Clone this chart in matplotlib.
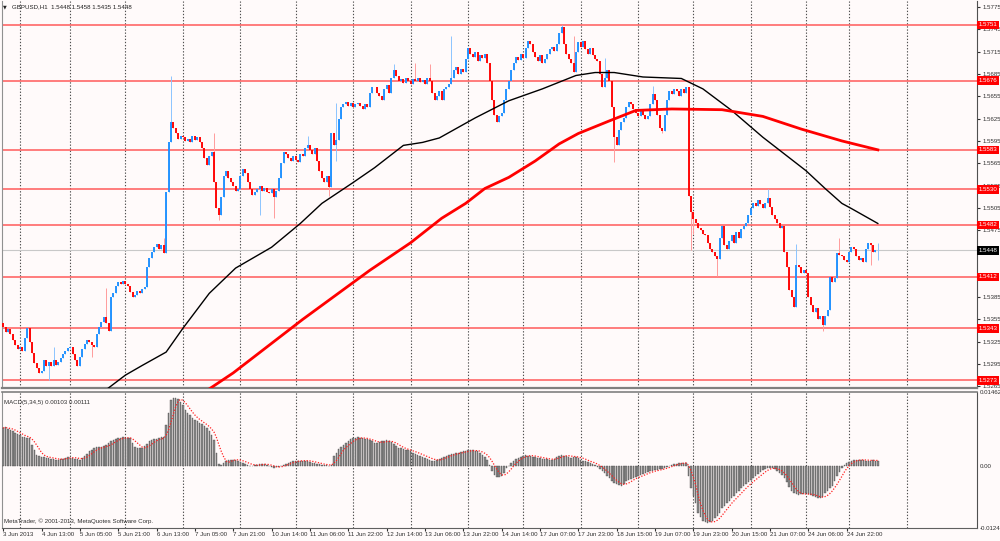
import numpy as np
import pandas as pd
import matplotlib
matplotlib.use("Agg")
import matplotlib.pyplot as plt

# %% data ------------------------------------------------------------------
# GBPUSD H1 closes, in pips above 1.5000
closes = [345, 338, 342, 335, 327, 320, 315, 318, 313, 330, 343, 325, 310, 296, 290,
          283, 286, 300, 292, 298, 292, 300, 293, 297, 303, 308, 312, 316, 318, 308,
          300, 292, 305, 315, 322, 327, 325, 320, 318, 335, 345, 352, 358, 350, 340,
          385, 390, 400, 405, 403, 407, 402, 400, 392, 385, 388, 393, 390, 396, 398,
          425, 438, 445, 452, 457, 450, 455, 444, 526, 593, 620, 612, 605, 598, 602,
          600, 595, 598, 593, 602, 596, 600, 594, 585, 572, 562, 575, 580, 540, 505,
          495, 520, 548, 555, 545, 540, 535, 528, 530, 548, 557, 552, 540, 530, 522,
          526, 530, 535, 528, 532, 526, 525, 530, 520, 528, 545, 565, 580, 578, 572,
          568, 575, 570, 566, 578, 575, 585, 590, 583, 578, 585, 568, 555, 545, 540,
          548, 533, 605, 590, 596, 625, 640, 645, 648, 642, 646, 640, 644, 646, 642,
          638, 645, 641, 660, 667, 668, 660, 655, 650, 665, 670, 660, 680, 690, 682,
          675, 678, 673, 680, 676, 672, 678, 675, 680, 674, 677, 672, 679, 676, 660,
          650, 655, 662, 650, 665, 668, 672, 680, 690, 695, 685, 692, 688, 705, 720,
          712, 708, 715, 702, 710, 706, 712, 700, 675, 650, 630, 620, 628, 632, 650,
          665, 676, 690, 700, 708, 704, 712, 706, 720, 730, 726, 715, 708, 702, 710,
          700, 705, 712, 718, 722, 716, 725, 740, 748, 725, 712, 705, 700, 688, 715,
          728, 722, 730, 718, 712, 720, 710, 705, 703, 685, 668, 680, 690, 675, 640,
          600, 590, 610, 620, 626, 640, 648, 645, 638, 632, 628, 635, 630, 625, 628,
          645, 658, 650, 630, 612, 608, 630, 650, 662, 658, 665, 662, 656, 665, 660,
          668, 521, 500, 490, 485, 478, 475, 470, 468, 458, 450, 446, 440, 436, 465,
          480, 455, 450, 460, 468, 458, 472, 465, 476, 480, 484, 495, 505, 512, 508,
          515, 510, 505, 512, 518, 506, 495, 490, 484, 478, 480, 445, 425, 395, 385,
          372, 428, 425, 418, 422, 417, 385, 375, 365, 370, 355, 360, 348, 360, 367,
          412, 405, 410, 444, 442, 440, 435, 432, 446, 452, 450, 440, 435, 438, 432,
          450, 458, 455, 445, 448, 448]
first_open = 350

# wicks that stand out (bar index: pips)
wick_high = {21: 318, 43: 397, 67: 464, 70: 683, 88: 605, 127: 602, 139: 646,
             163: 699, 172: 700, 178: 699, 187: 736, 233: 751, 238: 736, 251: 707,
             271: 669, 319: 530, 331: 457, 349: 465, 365: 458}
wick_low = {19: 273, 37: 304, 90: 488, 107: 495, 113: 492, 136: 521, 139: 568,
            255: 566, 275: 605, 287: 448, 288: 470, 298: 413, 342: 340, 362: 428,
            365: 435}

# moving averages (bar index, pips)
ma_black_bar = [42, 51, 58, 68, 75, 86, 97, 112, 124, 133, 146, 155, 167, 175, 182,
                197, 211, 225, 239, 247, 255, 267, 283, 292, 304, 317, 335, 343, 350,
                354, 365]
ma_black = [258, 280, 293, 311, 343, 390, 424, 452, 484, 511, 539, 559, 589, 593, 599,
            626, 649, 665, 683, 687, 687, 681, 679, 665, 636, 600, 555, 531, 511, 504,
            484]
ma_red_bar = [83, 96, 125, 153, 170, 183, 193, 201, 211, 222, 232, 240, 253, 264, 279,
              300, 317, 333, 350, 365]
ma_red = [255, 283, 355, 421, 458, 491, 511, 531, 546, 568, 591, 605, 622, 636, 638,
          637, 628, 611, 595, 583]

# horizontal levels (pips) and last bid
levels = [751, 676, 583, 530, 482, 412, 343, 273]
bid = 448

# MACD(5,34,5) main, units of 0.0001
macd = [75, 76, 73, 71, 68, 65, 63, 60, 57, 56,
        55, 55, 41, 30, 22, 19, 18, 17, 16, 15,
        14, 13, 12, 12, 13, 14, 16, 17, 16, 15,
        14, 13, 12, 16, 20, 24, 28, 31, 34, 36,
        37, 37, 38, 40, 44, 48, 51, 53, 55, 55,
        56, 55, 55, 54, 45, 36, 35, 34, 34, 38,
        43, 48, 50, 52, 53, 54, 56, 57, 80, 105,
        131, 134, 135, 132, 127, 120, 111, 105, 100, 95,
        91, 88, 85, 82, 78, 75, 68, 60, 51, 25,
        4, 2, 6, 10, 11, 12, 12, 12, 10, 8,
        6, 4, 2, 0, 0, 1, 2, 3, 4, 3,
        1, -1, -3, -4, -3, -2, 0, 2, 4, 6,
        8, 9, 9, 10, 10, 10, 10, 9, 8, 6,
        5, 4, 3, 2, 1, 1, 0, 2, 20, 26,
        32, 36, 40, 44, 48, 52, 55, 55, 56, 55,
        54, 53, 52, 50, 48, 45, 45, 46, 48, 49,
        50, 48, 46, 42, 38, 35, 34, 33, 31, 30,
        28, 26, 24, 22, 20, 18, 16, 14, 12, 10,
        10, 11, 13, 16, 18, 20, 21, 23, 24, 25,
        26, 27, 28, 29, 30, 31, 30, 29, 28, 26,
        22, 17, 12, 2, -10, -18, -22, -22, -20, -14,
        -5, 0, 5, 10, 13, 16, 18, 20, 21, 20,
        19, 18, 17, 16, 15, 14, 13, 13, 12, 12,
        14, 17, 20, 21, 20, 19, 18, 16, 18, 18,
        15, 12, 10, 9, 7, 5, 4, 2, -3, -7,
        -10, -15, -20, -25, -30, -34, -37, -39, -40, -36,
        -30, -28, -26, -24, -22, -20, -18, -16, -14, -12,
        -11, -10, -9, -8, -7, -6, -4, -2, 0, 2,
        3, 4, 5, 6, 6, 5, -20, -45, -60, -75,
        -95, -103, -110, -113, -115, -113, -110, -105, -100, -95,
        -85, -80, -75, -70, -65, -60, -55, -50, -45, -40,
        -36, -32, -28, -25, -21, -17, -12, -8, -6, -5,
        -4, -5, -7, -10, -14, -18, -25, -33, -42, -50,
        -54, -56, -58, -57, -56, -55, -57, -59, -60, -62,
        -64, -65, -62, -55, -50, -45, -40, -30, -20, -12,
        -5, 2, 5, 8, 10, 11, 12, 12, 11, 11,
        10, 10, 10, 11, 10, 10]

time_labels = ["3 Jun 2013", "4 Jun 13:00", "5 Jun 05:00", "5 Jun 21:00", "6 Jun 13:00",
               "7 Jun 05:00", "7 Jun 21:00", "10 Jun 14:00", "11 Jun 06:00",
               "11 Jun 22:00", "12 Jun 14:00", "13 Jun 06:00", "13 Jun 22:00",
               "14 Jun 14:00", "17 Jun 07:00", "17 Jun 23:00", "18 Jun 15:00",
               "19 Jun 07:00", "19 Jun 23:00", "20 Jun 15:00", "21 Jun 07:00",
               "24 Jun 06:00", "24 Jun 22:00"]
grid_bars = [7, 28, 51, 75, 99, 122, 146, 170, 194, 217, 241, 265, 288, 312, 335, 353, 377]

# %% prep ------------------------------------------------------------------
def px(p):
    return 1.5 + np.asarray(p, dtype=float) / 10000.0

n = len(closes)
bars = np.arange(n)
c = px(closes)
o = np.concatenate([[px(first_open)], c[:-1]])
o[-1] = c[-1]
hi = np.maximum(o, c)
lo = np.minimum(o, c)
for b, v in wick_high.items():
    hi[b] = max(hi[b], px(v))
for b, v in wick_low.items():
    lo[b] = min(lo[b], px(v))
up = c >= o

macd_v = np.array(macd, dtype=float) / 10000.0
signal = pd.Series(macd_v).rolling(5, min_periods=1).mean()

BG = '#FFFAFA'
FS = 4.4
plt.rcParams['font.family'] = ['Liberation Sans', 'DejaVu Sans']

fig = plt.figure(figsize=(10, 5.41), dpi=100, facecolor=BG)
ax = fig.add_axes([0.0015, 1 - 388 / 541, 0.9755, 387 / 541], facecolor=BG)
ax2 = fig.add_axes([0.0015, 1 - 528 / 541, 0.9755, 136 / 541], facecolor=BG)

xmin = -0.7
xmax = xmin + 977 / 2.4
for a in (ax, ax2):
    a.set_xlim(xmin, xmax)
    for g in grid_bars:
        a.axvline(g, color='#505050', lw=0.8, ls=(0, (1.2, 1.6)), zorder=1)
    a.spines['top'].set_visible(False)
    a.spines['left'].set_color('#909090')
    a.spines['right'].set_color('#505050')
    a.spines['bottom'].set_color('#606060')

# %% price panel -----------------------------------------------------------
ax.set_ylim(1.52627, 1.57832)
for lv in levels:
    ax.axhline(px(lv), color='#FF5A5A', lw=1.1, zorder=2)
ax.axhline(px(bid), color='#C8C8C8', lw=0.8, zorder=2)

ax.vlines(bars[up], lo[up], hi[up], color='#8CC4FF', lw=0.7, zorder=3)
ax.vlines(bars[~up], lo[~up], hi[~up], color='#FF9C9C', lw=0.7, zorder=3)
body_lo = np.minimum(o, c)
body_hi = np.maximum(np.maximum(o, c), body_lo + 0.00008)
ax.vlines(bars[up], body_lo[up], body_hi[up], color='#1E90FF', lw=1.35, zorder=4)
ax.vlines(bars[~up], body_lo[~up], body_hi[~up], color='#FF0000', lw=1.35, zorder=4)

ax.plot(ma_black_bar, px(ma_black), color='black', lw=1.0, zorder=5)
ax.plot(ma_red_bar, px(ma_red), color='#FF0000', lw=2.0, zorder=5)

# price scale; the marks right under the bid and 1.5412 boxes are hidden, as in MT4
tick_vals = [1.5265 + 0.003 * i for i in range(18)]
tick_txt = ['%.4f' % t for t in tick_vals]
tick_txt[tick_txt.index('1.5445')] = ''
tick_txt[tick_txt.index('1.5415')] = ''
ax.yaxis.tick_right()
ax.set_yticks(tick_vals)
ax.set_yticklabels(tick_txt)
ax.tick_params(axis='y', labelsize=FS, length=2.5, pad=1.5, colors='#303030')
ax.set_xticks([])
ax.spines['bottom'].set_linewidth(1.6)
ax.spines['bottom'].set_color('#808080')

for lv in levels:
    ax.text(1.0015, px(lv), '%.4f' % px(lv), transform=ax.get_yaxis_transform(),
            ha='left', va='center', fontsize=FS, color='white', clip_on=False, zorder=10,
            bbox=dict(boxstyle='square,pad=0.3', fc='#FF0000', ec='none'))
ax.text(1.0015, px(bid), '%.4f' % px(bid), transform=ax.get_yaxis_transform(),
        ha='left', va='center', fontsize=FS, color='white', clip_on=False, zorder=10,
        bbox=dict(boxstyle='square,pad=0.3', fc='#000000', ec='none'))

fig.text(0.003, 1 - 7 / 541, '\u25bc', fontsize=3.5, va='center', color='#202020',
         family='DejaVu Sans')
fig.text(0.012, 1 - 7 / 541, 'GBPUSD,H1  1.5448 1.5458 1.5435 1.5448', fontsize=FS,
         va='center', color='#202020')

# %% MACD panel ------------------------------------------------------------
ax2.set_ylim(-0.0124, 0.01462)
ax2.bar(bars, macd_v, width=0.62, color='#8A8A8A', edgecolor='#404040', lw=0.25, zorder=3)
ax2.plot(bars, signal, color='#FF2020', lw=0.9, ls=(0, (1, 1.3)), zorder=4)
ax2.yaxis.tick_right()
ax2.set_yticks([-0.0124, 0.0, 0.01462])
ax2.set_yticklabels(['-0.0124', '0.00', '0.01462'])
ax2.tick_params(axis='y', labelsize=FS, length=0, pad=2, colors='#303030')
ax2.spines['top'].set_visible(True)
ax2.spines['top'].set_color('#808080')
ax2.spines['top'].set_linewidth(1.2)

ax2.set_xticks([16 * k for k in range(len(time_labels))])
ax2.set_xticklabels(time_labels)
plt.setp(ax2.get_xticklabels(), ha='left')
ax2.tick_params(axis='x', labelsize=FS, length=2, pad=1, colors='#303030')

ax2.text(0.003, 0.925, 'MACD(5,34,5) 0.00103 0.00111', transform=ax2.transAxes,
         fontsize=FS, va='center', color='#303030')
ax2.text(0.003, 0.05, 'MetaTrader, \u00a9 2001-2013, MetaQuotes Software Corp.',
         transform=ax2.transAxes, fontsize=FS, va='center', color='#303030')

fig.savefig('out.png', dpi=100, facecolor=BG)
